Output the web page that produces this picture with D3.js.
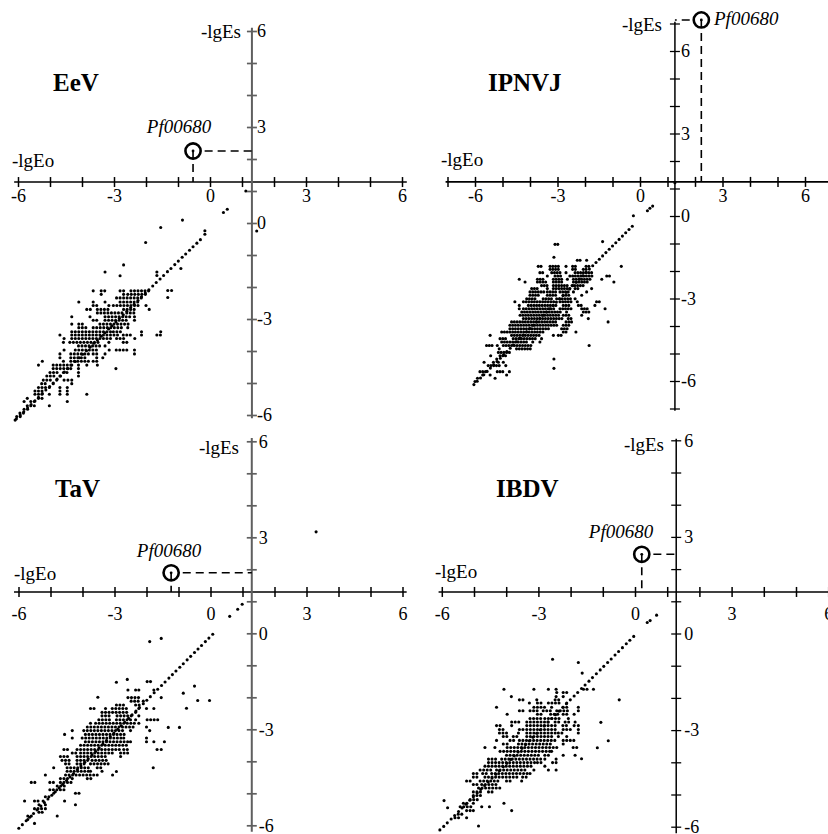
<!DOCTYPE html>
<html>
<head>
<meta charset="utf-8">
<script src="https://cdn.jsdelivr.net/npm/d3@7"></script>
<style>
  html, body { margin: 0; padding: 0; background: #fff; }
  svg { display: block; }
  svg text { font-family: "Liberation Serif", "Times New Roman", Times, serif !important; }
</style>
</head>
<body>
<svg id="chart" width="828" height="834"></svg>
<script>
// ---------- data ----------
const viruses = ["EeV", "IPNVJ", "TaV", "IBDV"];
const markerName = "Pf00680";
const axisNameX = "-lgEo";
const axisNameY = "-lgEs";
const tickLabels = [-6, -3, 0, 3, 6];

// highlighted domain position [-lgEo, -lgEs] per virus
const pfEeV = [-0.53, 2.25];
const pfIPNVJ = [2.23, 7.13];
const pfTaV = [-1.23, 1.89];
const pfIBDV = [0.21, 2.46];

// dots on the near-diagonal streak [x, y]
const eevDiagonal = [[-6.05,-6.12],[-5.93,-6.00],[-5.82,-5.90],[-5.70,-5.78],[-5.59,-5.67],[-5.47,-5.56],[-5.36,-5.45],[-5.24,-5.33],[-5.13,-5.22],[-5.01,-5.11],[-4.90,-5.00],[-4.78,-4.88],[-4.67,-4.78],[-4.55,-4.66],[-4.44,-4.55],[-4.32,-4.44],[-4.21,-4.33],[-4.09,-4.21],[-3.98,-4.10],[-3.86,-3.99],[-3.75,-3.88],[-3.63,-3.76],[-3.52,-3.66],[-3.40,-3.54],[-3.29,-3.43],[-3.17,-3.31],[-3.06,-3.21],[-2.94,-3.09],[-2.83,-2.98],[-2.71,-2.87],[-2.60,-2.76],[-2.48,-2.64],[-2.37,-2.54],[-2.25,-2.42],[-2.14,-2.31],[-2.02,-2.19],[-1.91,-2.09],[-1.79,-1.97],[-1.68,-1.86],[-1.56,-1.75],[-1.45,-1.64],[-1.33,-1.52],[-1.22,-1.42],[-1.10,-1.30],[-0.99,-1.19],[-0.87,-1.07],[-0.76,-0.97],[-0.64,-0.85],[-0.53,-0.74],[-0.41,-0.63],[-0.30,-0.52]];
const ipnvjDiagonal = [[-6.04,-6.13],[-5.92,-6.01],[-5.80,-5.89],[-5.68,-5.77],[-5.56,-5.65],[-5.44,-5.53],[-5.32,-5.41],[-5.20,-5.29],[-5.08,-5.17],[-4.96,-5.05],[-4.84,-4.93],[-4.72,-4.81],[-4.60,-4.69],[-4.48,-4.57],[-4.36,-4.45],[-4.24,-4.33],[-4.12,-4.21],[-4.00,-4.09],[-3.88,-3.97],[-3.76,-3.85],[-3.64,-3.73],[-3.52,-3.61],[-3.40,-3.49],[-3.28,-3.37],[-3.16,-3.25],[-3.04,-3.13],[-2.92,-3.01],[-2.80,-2.89],[-2.68,-2.77],[-2.56,-2.65],[-2.44,-2.53],[-2.32,-2.41],[-2.20,-2.29],[-2.08,-2.17],[-1.96,-2.05],[-1.84,-1.93],[-1.72,-1.81],[-1.60,-1.69],[-1.48,-1.57],[-1.36,-1.45],[-1.24,-1.33],[-1.12,-1.21],[-1.00,-1.09],[-0.88,-0.97],[-0.76,-0.85],[-0.64,-0.73],[-0.52,-0.61],[-0.40,-0.49],[-0.28,-0.37]];
const tavDiagonal = [[-5.99,-6.09],[-5.88,-5.98],[-5.76,-5.86],[-5.65,-5.75],[-5.53,-5.63],[-5.42,-5.52],[-5.30,-5.40],[-5.19,-5.29],[-5.08,-5.18],[-4.96,-5.06],[-4.85,-4.95],[-4.73,-4.83],[-4.62,-4.72],[-4.50,-4.60],[-4.39,-4.49],[-4.28,-4.38],[-4.16,-4.26],[-4.05,-4.15],[-3.93,-4.03],[-3.82,-3.92],[-3.70,-3.80],[-3.59,-3.69],[-3.48,-3.58],[-3.36,-3.46],[-3.25,-3.35],[-3.13,-3.23],[-3.02,-3.12],[-2.90,-3.00],[-2.79,-2.89],[-2.68,-2.78],[-2.56,-2.66],[-2.45,-2.55],[-2.33,-2.43],[-2.22,-2.32],[-2.10,-2.20],[-1.99,-2.09],[-1.88,-1.98],[-1.76,-1.86],[-1.65,-1.75],[-1.53,-1.63],[-1.42,-1.52],[-1.30,-1.40],[-1.19,-1.29],[-1.08,-1.18],[-0.96,-1.06],[-0.85,-0.95],[-0.73,-0.83],[-0.62,-0.72],[-0.50,-0.60],[-0.39,-0.49],[-0.28,-0.38],[-0.16,-0.26],[-0.05,-0.15],[0.07,-0.03]];
const ibdvDiagonal = [[-6.06,-6.10],[-5.94,-5.99],[-5.83,-5.88],[-5.71,-5.76],[-5.60,-5.65],[-5.48,-5.53],[-5.37,-5.42],[-5.25,-5.30],[-5.13,-5.18],[-5.02,-5.07],[-4.90,-4.95],[-4.79,-4.84],[-4.67,-4.72],[-4.56,-4.61],[-4.44,-4.49],[-4.32,-4.37],[-4.21,-4.26],[-4.09,-4.14],[-3.98,-4.03],[-3.86,-3.91],[-3.75,-3.80],[-3.63,-3.68],[-3.51,-3.56],[-3.40,-3.45],[-3.28,-3.33],[-3.17,-3.22],[-3.05,-3.10],[-2.94,-2.99],[-2.82,-2.87],[-2.70,-2.75],[-2.59,-2.64],[-2.47,-2.52],[-2.36,-2.41],[-2.24,-2.29],[-2.13,-2.18],[-2.01,-2.06],[-1.89,-1.94],[-1.78,-1.83],[-1.66,-1.71],[-1.55,-1.60],[-1.43,-1.48],[-1.32,-1.37],[-1.20,-1.25],[-1.08,-1.13],[-0.97,-1.02],[-0.85,-0.90],[-0.74,-0.79],[-0.62,-0.67],[-0.51,-0.56],[-0.39,-0.44],[-0.27,-0.32],[-0.16,-0.21],[-0.04,-0.09]];

// scattered dots away from the main cloud [x, y]
const eevSingles = [[0.42,0.33],[0.54,0.43],[1.12,1.0],[1.46,-0.25],[-0.86,0.09],[-1.54,-0.14],[-0.16,-0.24],[-0.16,-0.35],[-2.01,-0.61],[-2.70,-1.31],[-3.28,-1.53],[-2.81,-1.65],[-0.91,-1.42],[-1.32,-2.11],[-1.20,-2.11],[-1.32,-2.33],[-1.66,-1.53],[-1.66,-1.64]];
const ipnvjSingles = [[0.46,0.36],[0.36,0.28],[0.27,0.19],[1.27,1.21],[-0.24,0.01],[-1.36,-0.93],[-3.09,-1.03],[-2.99,-1.03],[-3.13,-1.50],[-0.68,-1.83]];
const tavSingles = [[0.6,0.53],[0.85,0.75],[0.99,0.91],[3.30,3.17],[-1.90,-0.26],[-1.54,-0.16],[-2.94,-1.53],[-2.60,-1.44],[-3.52,-2.0],[-1.98,-1.51],[-1.875,-1.51],[-0.85,-1.87],[-0.50,-1.65],[-0.40,-2.10],[-0.03,-2.10],[-0.75,-2.34],[-1.32,-2.94],[-0.97,-2.94],[-1.44,-3.39],[-1.67,-3.63],[-1.54,-3.63],[-1.79,-4.20],[-2.94,-4.32],[-3.06,-4.43]];
const ibdvSingles = [[0.67,0.57],[0.38,0.34],[0.47,0.40],[-2.56,-0.80],[-1.76,-0.90],[-1.64,-1.23],[-0.49,-2.06],[-1.06,-2.76],[-0.83,-3.33],[-1.17,-3.55],[-1.66,-3.89],[-5.93,-5.19],[-5.82,-5.41],[-4.86,-5.98]];

// main cloud, row by row: [y, start1, end1, start2, end2, ...]
// each start..end pair is a run of neighbouring grid dots on that row
const eevRows = [
  [-2.12, -3.65,-3.65, -3.40,-3.28, -2.81,-2.70, -2.47,-1.89],
  [-2.23, -3.40,-3.40, -2.70,-2.70, -2.57,-2.00],
  [-2.34, -2.92,-2.92, -2.81,-2.11],
  [-2.47, -4.10,-4.10, -3.65,-3.65, -3.28,-3.28, -2.81,-2.24],
  [-2.58, -3.65,-3.52, -3.16,-3.16, -3.02,-2.24, -2.00,-2.00],
  [-2.70, -3.85,-3.75, -3.52,-3.13, -2.70,-2.36, -1.90,-1.90],
  [-2.81, -3.52,-2.70, -2.60,-2.36],
  [-2.93, -4.32,-4.32, -3.75,-3.75, -3.28,-2.50, -2.36,-2.36],
  [-3.04, -3.65,-3.54, -3.28,-2.60, -2.36,-2.36],
  [-3.16, -4.32,-4.32, -4.10,-3.96, -3.44,-2.50],
  [-3.27, -4.10,-3.85, -3.65,-2.71, -2.57,-2.57],
  [-3.40, -4.32,-4.17, -4.10,-3.13, -3.02,-2.81, -2.14,-2.14, -1.54,-1.54],
  [-3.50, -4.69,-4.69, -4.32,-2.92, -2.71,-2.50, -2.14,-2.14, -1.66,-1.54],
  [-3.61, -4.56,-4.56, -4.32,-3.13, -2.92,-2.71, -2.35,-2.35],
  [-3.73, -4.58,-4.58, -4.38,-3.44, -3.16,-3.16, -2.71,-2.58],
  [-3.84, -4.11,-3.39, -3.28,-3.28],
  [-3.97, -4.56,-4.56, -4.21,-3.49, -3.15,-3.15, -2.93,-2.58, -2.36,-2.36],
  [-4.09, -4.69,-4.69, -4.35,-3.75, -3.65,-3.65, -3.54,-3.54, -3.28,-3.28, -2.36,-2.36],
  [-4.21, -4.69,-4.69, -4.35,-3.85, -3.54,-3.54, -3.35,-3.35],
  [-4.32, -5.24,-5.24, -4.58,-4.58, -4.35,-3.80, -3.65,-3.65, -3.54,-3.54],
  [-4.44, -5.36,-5.36, -4.90,-4.38, -4.11,-4.11, -3.85,-3.85, -3.52,-3.52],
  [-4.55, -4.90,-4.38, -4.11,-4.11, -2.94,-2.94],
  [-4.67, -5.00,-4.79, -4.58,-4.48, -4.11,-4.11],
  [-4.78, -5.10,-4.90, -4.69,-4.69, -4.11,-4.11],
  [-4.91, -5.21,-5.00, -4.79,-4.79, -4.56,-4.56, -4.44,-4.44, -4.32,-4.32],
  [-5.02, -5.26,-5.10, -4.90,-4.90, -4.32,-4.32],
  [-5.14, -5.36,-5.16, -5.02,-5.02, -4.69,-4.69, -4.46,-4.46],
  [-5.25, -5.47,-5.26, -4.69,-4.69, -4.46,-4.46],
  [-5.35, -5.47,-5.21, -5.02,-5.02, -4.69,-4.69, -4.46,-4.46, -3.85,-3.85],
  [-5.48, -5.71,-5.71, -5.36,-5.21],
  [-5.58, -5.81,-5.81, -5.60,-5.47, -4.46,-4.46],
  [-5.71, -5.71,-5.47, -5.02,-5.02],
  [-5.82, -5.81,-5.71],
  [-5.94, -5.94,-5.83],
  [-6.05, -6.04,-5.94],
  [-6.16, -6.09,-6.04]
];
const ipnvjRows = [
  [-1.61, -2.28,-2.16, -1.94,-1.94],
  [-1.83, -3.70,-3.58, -3.27,-2.91, -2.69,-2.69, -2.45,-2.30, -1.96,-1.84],
  [-1.94, -3.27,-2.91, -2.45,-2.30, -2.06,-1.94],
  [-2.06, -3.64,-3.52, -3.21,-2.91, -2.69,-2.69, -2.36,-1.70],
  [-2.18, -3.37,-3.37, -3.09,-2.91, -2.55,-1.76, -1.21,-1.07],
  [-2.30, -4.39,-4.39, -3.73,-3.52, -3.15,-2.79, -2.64,-2.64, -2.42,-1.76, -1.39,-1.39],
  [-2.40, -4.18,-4.18, -3.73,-3.39, -3.15,-2.85, -2.42,-1.94, -0.95,-0.95],
  [-2.53, -3.58,-3.33, -3.15,-2.67, -2.47,-2.04],
  [-2.64, -3.94,-3.76, -3.37,-3.37, -3.15,-2.55, -2.36,-2.24, -1.76,-1.76],
  [-2.76, -4.00,-3.52, -3.37,-3.09, -2.91,-2.61, -2.42,-2.42, -1.94,-1.94],
  [-2.88, -4.00,-3.64, -3.37,-3.03, -2.79,-2.55, -2.12,-2.12],
  [-3.01, -4.12,-3.82, -3.52,-3.21, -3.03,-2.55, -2.36,-2.36],
  [-3.12, -4.55,-4.55, -4.24,-3.76, -3.64,-3.15, -2.91,-2.55, -2.28,-2.28, -1.58,-1.45],
  [-3.25, -4.39,-4.39, -4.06,-3.03, -2.79,-2.55, -2.24,-2.12, -1.64,-1.64],
  [-3.37, -4.39,-4.39, -4.24,-3.09, -2.91,-2.55, -2.12,-1.94, -1.27,-1.27],
  [-3.49, -4.30,-2.91, -2.67,-2.67, -2.06,-1.88],
  [-3.61, -4.36,-2.91, -2.79,-2.55, -2.12,-2.12],
  [-3.73, -4.24,-2.79, -2.61,-2.49, -1.88,-1.88],
  [-3.85, -4.67,-3.03, -2.69,-2.49, -1.16,-1.16],
  [-3.97, -4.73,-3.03, -2.79,-2.61],
  [-4.10, -4.73,-3.33, -2.85,-2.67],
  [-4.22, -5.03,-3.52, -2.79,-2.67, -2.33,-2.33],
  [-4.34, -5.45,-5.45, -4.67,-3.70, -3.15,-3.15, -2.97,-2.85],
  [-4.46, -5.09,-4.91, -4.61,-3.76, -3.58,-3.58],
  [-4.58, -5.03,-4.12, -3.90,-3.90, -3.64,-3.64],
  [-4.71, -5.58,-5.39, -5.19,-5.19, -4.97,-4.00, -1.85,-1.85],
  [-4.83, -5.12,-5.12, -4.49,-4.00],
  [-4.96, -5.15,-4.73],
  [-5.08, -5.43,-5.43, -5.09,-4.85],
  [-5.20, -5.21,-5.21, -3.13,-3.13],
  [-5.32, -5.67,-5.67, -5.33,-5.33, -5.15,-5.15, -4.97,-4.97],
  [-5.44, -5.52,-5.09, -4.88,-4.88],
  [-5.54, -3.13,-3.13],
  [-5.66, -5.82,-5.58, -5.19,-4.97, -4.75,-4.75],
  [-5.78, -5.72,-5.72, -5.45,-5.45, -4.85,-4.85],
  [-5.90, -5.91,-5.91, -5.27,-5.27],
  [-6.02, -6.00,-6.00]
];
const tavRows = [
  [-1.77, -2.58,-2.58, -2.34,-2.34, -2.24,-2.24, -1.77,-1.77],
  [-2.01, -2.58,-2.24, -1.54,-1.54],
  [-2.12, -2.48,-2.24, -2.10,-2.10],
  [-2.24, -2.94,-2.71, -2.34,-2.19],
  [-2.35, -3.75,-3.65, -3.28,-3.28, -3.07,-2.60, -2.24,-2.24, -2.00,-2.00, -1.77,-1.77],
  [-2.47, -3.39,-2.60, -2.34,-2.34],
  [-2.58, -3.39,-3.12, -2.92,-2.50, -2.24,-2.24],
  [-2.70, -3.49,-3.12, -2.94,-2.45, -2.34,-2.34, -1.98,-1.67],
  [-2.81, -3.75,-3.75, -3.59,-2.40, -2.24,-2.24],
  [-2.93, -3.85,-2.40, -2.00,-2.00],
  [-3.04, -4.32,-4.32, -3.96,-2.71, -2.50,-2.50, -1.90,-1.90],
  [-3.16, -4.56,-4.56, -3.91,-2.66],
  [-3.27, -4.32,-4.32, -4.01,-2.81, -2.71,-2.71, -2.00,-2.00],
  [-3.39, -3.91,-2.60, -2.50,-2.50, -2.00,-2.00, -1.77,-1.77],
  [-3.50, -4.06,-2.66],
  [-3.63, -4.58,-4.43, -4.17,-2.81, -2.71,-2.60],
  [-3.74, -4.32,-4.22, -4.06,-3.07, -2.81,-2.60],
  [-3.85, -4.69,-4.48, -4.17,-3.23, -2.81,-2.81],
  [-3.97, -4.64,-4.43, -4.17,-3.80, -3.70,-3.28],
  [-4.08, -4.53,-4.38, -4.17,-3.96, -3.75,-3.23],
  [-4.20, -4.90,-4.90, -4.48,-3.85, -3.54,-3.39],
  [-4.31, -4.48,-3.85, -3.75,-3.75, -3.39,-3.39],
  [-4.43, -5.16,-5.16, -4.53,-3.65, -3.54,-3.54],
  [-4.54, -4.69,-4.48, -4.32,-4.32, -3.85,-3.75],
  [-4.66, -5.60,-5.50, -5.02,-4.92, -4.69,-4.32],
  [-4.77, -4.79,-4.58],
  [-4.89, -5.02,-4.58],
  [-5.00, -4.90,-4.90, -4.22,-4.09],
  [-5.11, -5.16,-5.05],
  [-5.24, -5.81,-5.81, -5.50,-5.36, -5.23,-5.23, -4.56,-4.56],
  [-5.36, -5.36,-5.36, -5.16,-5.16, -4.22,-4.22],
  [-5.48, -5.50,-5.26, -5.16,-5.16],
  [-5.59, -5.36,-5.36, -5.26,-5.26],
  [-5.71, -5.71,-5.57, -4.79,-4.79],
  [-5.82, -5.71,-5.71],
  [-5.94, -5.50,-5.50]
];
const ibdvRows = [
  [-1.73, -4.07,-4.07, -3.14,-3.14, -2.69,-2.69, -2.45,-2.45, -1.60,-1.50, -1.29,-1.29],
  [-1.83, -2.43,-2.43, -2.23,-2.12],
  [-1.96, -3.84,-3.84, -2.45,-2.45, -2.23,-2.23],
  [-2.06, -3.59,-3.49, -3.05,-3.05, -2.48,-2.38],
  [-2.16, -3.28,-3.28, -3.03,-2.90, -2.69,-2.38, -2.12,-2.12],
  [-2.29, -4.30,-4.30, -3.14,-2.85, -2.59,-2.59, -2.23,-2.12, -1.76,-1.76],
  [-2.40, -3.59,-3.49, -3.26,-3.05, -2.85,-2.64, -2.43,-2.12, -1.76,-1.76],
  [-2.51, -3.97,-3.97, -3.03,-2.90, -2.62,-2.38, -2.23,-2.07, -1.89,-1.89],
  [-2.64, -3.26,-2.95, -2.80,-2.38, -2.07,-2.07],
  [-2.75, -3.83,-3.62, -3.36,-2.74, -2.48,-2.33, -2.17,-2.02, -1.86,-1.86],
  [-2.86, -4.30,-4.19, -3.83,-3.83, -3.36,-2.43, -2.24,-2.12, -1.89,-1.89, -1.76,-1.76],
  [-2.98, -4.21,-4.14, -3.59,-3.47, -3.36,-2.43, -2.23,-2.02, -1.76,-1.76],
  [-3.09, -4.21,-3.93, -3.62,-3.62, -3.36,-2.48, -2.38,-2.28, -1.76,-1.76],
  [-3.20, -4.09,-3.99, -3.78,-3.62, -3.36,-2.54, -2.38,-2.38, -2.12,-2.12],
  [-3.32, -4.30,-4.30, -3.88,-3.78, -3.59,-2.48, -2.23,-1.92],
  [-3.43, -4.09,-4.09, -3.97,-3.97, -3.62,-2.59, -2.23,-2.23],
  [-3.54, -4.66,-4.66, -4.35,-4.35, -3.97,-2.64, -2.54,-2.43, -1.92,-1.81],
  [-3.66, -4.19,-2.69, -2.59,-2.59],
  [-3.78, -3.99,-2.95, -2.80,-2.69, -2.23,-2.23, -1.86,-1.86],
  [-3.90, -4.55,-4.30, -4.14,-2.95, -2.80,-2.80, -2.45,-2.45],
  [-4.01, -4.55,-3.16, -3.03,-2.95, -2.56,-2.45],
  [-4.12, -4.66,-3.26, -2.80,-2.80],
  [-4.24, -4.81,-4.45, -4.30,-3.36, -3.14,-3.14, -2.69,-2.69, -2.45,-2.45],
  [-4.35, -5.02,-4.92, -4.73,-4.61, -4.45,-3.36, -3.26,-3.26],
  [-4.46, -5.02,-4.86, -4.66,-3.67, -3.49,-3.36],
  [-4.58, -5.23,-5.07, -4.81,-4.30, -3.99,-3.83, -3.52,-3.52],
  [-4.69, -5.02,-4.86, -4.76,-4.30],
  [-4.80, -4.86,-4.19],
  [-4.92, -5.02,-4.76, -4.55,-4.45],
  [-5.03, -5.02,-4.76],
  [-5.16, -5.12,-4.86],
  [-5.27, -5.33,-5.18, -5.02,-5.02, -4.07,-4.07],
  [-5.38, -5.43,-5.12, -4.76,-4.76, -4.52,-4.52],
  [-5.50, -5.23,-5.12, -5.02,-5.02, -3.83,-3.83],
  [-5.61, -5.49,-5.33],
  [-5.72, -5.59,-5.49, -5.23,-5.23]
];

// ---------- layout ----------
const serif = "Liberation Serif, Times New Roman, Times, serif";
const panels = [
  { name: viruses[0], pf: pfEeV, diag: eevDiagonal, rows: eevRows, singles: eevSingles, step: 0.11,
    xRange: [18, 402], yRange: [415, 31], cross: [1.31, 1.28],
    xExt: [-6.12, 6.15], yExt: [-6.1, 6.1], xTicks: d3.range(-6, 7), yTicks: d3.range(-6, 7),
    yColor: "#5f5f5f", yWidth: 2, xLabelDy: 20, yLabelDx: 5,
    lgEs: [241, 38], lgEo: [12, 167], title: [53, 91], pfLabel: [179, 133, "middle"] },
  { name: viruses[1], pf: pfIPNVJ, diag: ipnvjDiagonal, rows: ipnvjRows, singles: ipnvjSingles, step: 0.1,
    xRange: [475, 805], yRange: [381, 51], cross: [1.27, 1.24],
    xExt: [-7.07, 7.3], yExt: [-7.08, 7.06], xTicks: d3.range(-7, 8), yTicks: d3.range(-7, 8),
    yColor: "#000", yWidth: 1.5, xLabelDy: 20, yLabelDx: 6,
    lgEs: [662, 31], lgEo: [441, 166], title: [488, 91], pfLabel: [714, 25, "start"] },
  { name: viruses[2], pf: pfTaV, diag: tavDiagonal, rows: tavRows, singles: tavSingles, step: 0.11,
    xRange: [18.5, 402.5], yRange: [825.3, 441.3], cross: [1.29, 1.29],
    xExt: [-6.14, 6.13], yExt: [-6.2, 6.1], xTicks: d3.range(-6, 7), yTicks: d3.range(-6, 7),
    yColor: "#5f5f5f", yWidth: 2, xLabelDy: 28, yLabelDx: 7,
    lgEs: [239, 454], lgEo: [14, 580], title: [55, 497], pfLabel: [169, 557, "middle"] },
  { name: viruses[3], pf: pfIBDV, diag: ibdvDiagonal, rows: ibdvRows, singles: ibdvSingles, step: 0.11,
    xRange: [441.8, 828.2], yRange: [826.7, 440.3], cross: [1.28, 1.29],
    xExt: [-6.1, 6.4], yExt: [-6.2, 6.05], xTicks: d3.range(-6, 7), yTicks: d3.range(-6, 7),
    yColor: "#000", yWidth: 1.5, xLabelDy: 28, yLabelDx: 8,
    lgEs: [664, 451], lgEo: [435, 578], title: [496, 497], pfLabel: [621, 538, "middle"] }
];

// expand run-length rows into individual dots
function decodeRows(rows, step) {
  const pts = [];
  rows.forEach(r => {
    const yv = r[0];
    for (let i = 1; i < r.length; i += 2) {
      for (let xv = r[i]; xv <= r[i + 1] + step * 0.4; xv += step) pts.push([xv, yv]);
    }
  });
  return pts;
}

const svg = d3.select("#chart");
svg.append("rect").attr("width", 828).attr("height", 834).attr("fill", "#fff");

function drawPanel(p) {
  const g = svg.append("g");
  const x = d3.scaleLinear().domain([-6, 6]).range(p.xRange);
  const y = d3.scaleLinear().domain([-6, 6]).range(p.yRange);
  const axisRow = y(p.cross[1]);
  const axisCol = x(p.cross[0]);

  // dots
  const dots = p.diag.concat(p.singles, decodeRows(p.rows, p.step));
  g.append("g").selectAll("circle").data(dots).join("circle")
    .attr("cx", d => x(d[0])).attr("cy", d => y(d[1])).attr("r", 1.55).attr("fill", "#000");

  // horizontal axis: tick marks crossing the line
  const gx = g.append("g").attr("transform", `translate(0,${axisRow})`)
    .call(d3.axisBottom(x).tickValues(p.xTicks).tickSizeInner(5).tickSizeOuter(0).tickFormat(""));
  gx.select(".domain").remove();
  gx.selectAll(".tick line").attr("y1", -5).attr("y2", 5).attr("stroke", "#000").attr("stroke-width", 1.5);
  gx.append("line").attr("x1", x(p.xExt[0])).attr("x2", x(p.xExt[1]))
    .attr("stroke", "#000").attr("stroke-width", 1.6);

  const gxl = g.append("g").attr("transform", `translate(0,${axisRow})`)
    .call(d3.axisBottom(x).tickValues(tickLabels).tickSize(0).tickFormat(d => String(d)));
  gxl.select(".domain").remove();
  gxl.attr("font-family", serif).attr("font-size", 18);
  gxl.selectAll("text").attr("y", p.xLabelDy).attr("dy", null).attr("fill", "#000");

  // vertical axis
  const gy = g.append("g").attr("transform", `translate(${axisCol},0)`)
    .call(d3.axisRight(y).tickValues(p.yTicks).tickSizeInner(5).tickSizeOuter(0).tickFormat(""));
  gy.select(".domain").remove();
  gy.selectAll(".tick line").attr("x1", -5).attr("x2", 5).attr("stroke", p.yColor).attr("stroke-width", p.yWidth * 0.85);
  gy.append("line").attr("y1", y(p.yExt[0])).attr("y2", y(p.yExt[1]))
    .attr("stroke", p.yColor).attr("stroke-width", p.yWidth);

  const gyl = g.append("g").attr("transform", `translate(${axisCol},0)`)
    .call(d3.axisRight(y).tickValues(tickLabels).tickSize(0).tickFormat(d => String(d)));
  gyl.select(".domain").remove();
  gyl.attr("font-family", serif).attr("font-size", 18);
  gyl.selectAll("text").attr("x", p.yLabelDx).attr("dy", "0.32em").attr("fill", "#000");

  // axis names and panel title
  g.append("text").attr("x", p.lgEs[0]).attr("y", p.lgEs[1]).attr("text-anchor", "end")
    .attr("font-size", 19).text(axisNameY);
  g.append("text").attr("x", p.lgEo[0]).attr("y", p.lgEo[1])
    .attr("font-size", 19).text(axisNameX);
  g.append("text").attr("x", p.title[0]).attr("y", p.title[1])
    .attr("font-size", 25).attr("font-weight", "bold").text(p.name);

  // highlighted domain with guide lines to both axes
  const px = x(p.pf[0]), py = y(p.pf[1]);
  const r = 7.6;
  g.append("line").attr("x1", px).attr("y1", py).attr("x2", px).attr("y2", axisRow)
    .attr("stroke", "#000").attr("stroke-width", 1.6).attr("stroke-dasharray", "8,5");
  const dir = axisCol > px ? 1 : -1;
  g.append("line").attr("x1", px + dir * (r + 4)).attr("y1", py).attr("x2", axisCol).attr("y2", py)
    .attr("stroke", "#000").attr("stroke-width", 1.6).attr("stroke-dasharray", "8,5");
  g.append("circle").attr("cx", px).attr("cy", py).attr("r", r)
    .attr("fill", "none").attr("stroke", "#000").attr("stroke-width", 2.6);
  g.append("circle").attr("cx", px).attr("cy", py).attr("r", 1.4).attr("fill", "#000");
  g.append("text").attr("x", p.pfLabel[0]).attr("y", p.pfLabel[1]).attr("text-anchor", p.pfLabel[2])
    .attr("font-size", 19).attr("font-style", "italic").text(markerName);
}

panels.forEach(drawPanel);
</script>
</body>
</html>
